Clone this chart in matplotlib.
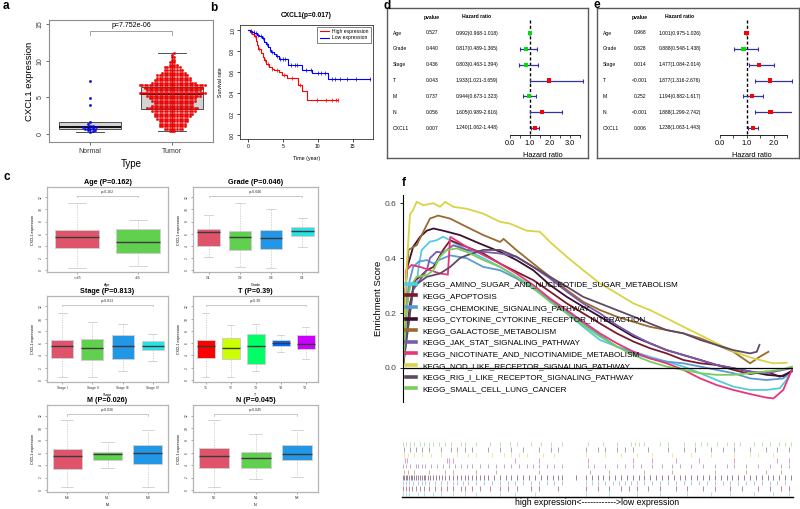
import numpy as np
import matplotlib
matplotlib.use('Agg')
import matplotlib.pyplot as plt
from matplotlib.lines import Line2D
from matplotlib.transforms import blended_transform_factory

plt.rcParams['font.family'] = ['Liberation Sans', 'DejaVu Sans']

W, H = 800, 509

# ---------------- data ----------------
# panel a
normal_vals = [0.3, 0.42, 0.5, 0.58, 0.65, 0.72, 0.8, 0.85, 0.9, 0.95, 1.05, 1.15, 1.3, 1.6, 4.0, 4.9, 7.2]
tumor_levels = [0.35, 0.7, 1.05, 1.4, 1.75, 2.1, 2.45, 2.8, 3.15, 3.5, 3.85, 4.2, 4.55, 4.9, 5.25, 5.6,
                5.95, 6.3, 6.65, 7.0, 7.35, 7.7, 8.05, 8.4, 8.75, 9.1, 9.45, 9.8, 10.15, 10.5, 10.85, 11.1]
tumor_counts = [3, 8, 11, 11, 12, 13, 15, 16, 18, 21, 17, 16, 18, 19, 22, 27,
                22, 24, 27, 18, 15, 14, 13, 10, 8, 7, 4, 3, 2, 2, 1, 1]
# whislo, q1, med, q3, whishi
normal_box = [0.3, 0.62, 0.92, 1.65, 1.65]
tumor_box = [0.4, 3.45, 5.45, 6.4, 11.1]

# panel b (Kaplan-Meier steps)
high_t = [0, 0.3, 0.6, 0.9, 1.1, 1.3, 1.5, 1.8, 2.1, 2.3, 2.6, 3.0, 3.4, 3.7, 4.4, 4.9, 5.6, 7.1, 7.8, 8.5, 12.9]
high_s = [1.0, 0.98, 0.96, 0.94, 0.90, 0.86, 0.82, 0.78, 0.74, 0.71, 0.68, 0.65, 0.63, 0.62, 0.60, 0.57, 0.54, 0.48, 0.42, 0.33, 0.33]
high_cens = [0.5, 1.0, 1.6, 2.4, 2.9, 3.5, 4.2, 5.2, 6.3, 7.4, 9.9, 11.2, 12.1, 12.6, 12.9]
low_t = [0, 0.3, 0.6, 0.9, 1.3, 1.6, 2.0, 2.3, 2.6, 2.8, 3.1, 3.3, 3.7, 4.0, 4.4, 5.7, 7.8, 9.2, 11.4, 17.5]
low_s = [1.0, 0.99, 0.98, 0.97, 0.95, 0.94, 0.92, 0.89, 0.87, 0.84, 0.81, 0.79, 0.77, 0.75, 0.72, 0.67, 0.62, 0.59, 0.53, 0.53]
low_cens = [0.4, 0.8, 1.1, 1.5, 1.9, 2.2, 2.7, 3.2, 3.5, 4.1, 4.6, 5.0, 5.3, 6.2, 6.8, 7.0, 8.3, 9.0,
            10.0, 10.5, 11.0, 12.0, 12.5, 13.2, 14.2, 15.5, 17.5]

# panel c
c_titles = ['Age (P=0.162)', 'Grade (P=0.046)', 'Stage (P=0.813)', 'T (P=0.39)', 'M (P=0.026)', 'N (P=0.045)']
c_xlabels = ['Age', 'Grade', 'Stage', 'T', 'M', 'N']
c_pvals = ['p=0.162', 'p=0.046', 'p=0.813', 'p=0.39', 'p=0.026', 'p=0.045']
c_groups = [['<=65', '>65'], ['G1', 'G2', 'G3', 'G4'], ['Stage I', 'Stage II', 'Stage III', 'Stage IV'],
            ['T1', 'T2', 'T3', 'T4', 'TX'], ['M0', 'M1', 'MX'], ['N0', 'N1', 'NX']]
age_stats = [[0.4, 3.6, 5.5, 6.6, 11.0], [0.7, 2.75, 4.6, 6.8, 8.2]]
grade_stats = [[2.1, 4.0, 6.2, 6.7, 9.0], [0.45, 3.3, 5.5, 6.5, 11.0], [0.4, 3.4, 5.2, 6.6, 10.0], [3.8, 5.6, 6.4, 7.1, 8.6]]
stage_stats = [[0.55, 3.6, 5.5, 6.6, 11.0], [0.44, 3.2, 5.2, 6.7, 9.4], [1.4, 3.4, 5.6, 7.4, 9.2], [3.1, 4.9, 5.6, 6.4, 7.5]]
t_stats = [[0.55, 3.6, 5.5, 6.6, 11.0], [0.44, 3.4, 5.2, 6.8, 9.0], [1.4, 2.6, 5.6, 7.5, 9.2],
           [4.6, 5.5, 6.0, 6.6, 7.3], [3.5, 5.0, 5.9, 7.4, 8.6]]
m_stats = [[0.45, 3.3, 5.55, 6.55, 11.3], [3.5, 4.9, 5.8, 6.2, 7.7], [0.55, 4.2, 5.9, 7.2, 9.6]]
n_stats = [[0.45, 3.6, 5.55, 6.8, 11.3], [1.7, 3.5, 5.2, 6.1, 9.0], [2.1, 4.9, 5.8, 7.2, 9.6]]
c_stats = [age_stats, grade_stats, stage_stats, t_stats, m_stats, n_stats]
pal = ['#DF536B', '#61D04F', '#2297E6', '#28E2E5']
rainbow5 = ['#FF0000', '#CCFF00', '#00FF66', '#0066FF', '#CC00FF']
c_colors = [pal, pal, pal, rainbow5, pal, pal]

# panels d / e
cox_names = ['Age', 'Grade', 'Stage', 'T', 'M', 'N', 'CXCL1']
d_p = ['0.527', '0.440', '0.436', '0.043', '0.737', '0.056', '0.007']
d_hr = [0.992, 0.817, 0.803, 1.933, 0.944, 1.605, 1.240]
d_lo = [0.968, 0.489, 0.463, 1.021, 0.673, 0.989, 1.062]
d_hi = [1.018, 1.365, 1.394, 3.659, 1.323, 2.616, 1.448]
e_p = ['0.968', '0.628', '0.014', '<0.001', '0.252', '<0.001', '0.006']
e_hr = [1.001, 0.888, 1.477, 1.877, 1.194, 1.888, 1.238]
e_lo = [0.975, 0.548, 1.084, 1.316, 0.882, 1.299, 1.063]
e_hi = [1.026, 1.438, 2.014, 2.676, 1.617, 2.742, 1.443]

# panel f (running enrichment scores, x = % of ranked list)
gsea_names = ['KEGG_AMINO_SUGAR_AND_NUCLEOTIDE_SUGAR_METABOLISM', 'KEGG_APOPTOSIS',
              'KEGG_CHEMOKINE_SIGNALING_PATHWAY', 'KEGG_CYTOKINE_CYTOKINE_RECEPTOR_INTERACTION',
              'KEGG_GALACTOSE_METABOLISM', 'KEGG_JAK_STAT_SIGNALING_PATHWAY',
              'KEGG_NICOTINATE_AND_NICOTINAMIDE_METABOLISM', 'KEGG_NOD_LIKE_RECEPTOR_SIGNALING_PATHWAY',
              'KEGG_RIG_I_LIKE_RECEPTOR_SIGNALING_PATHWAY', 'KEGG_SMALL_CELL_LUNG_CANCER']
gsea_colors = ['#52CCE0', '#7B1A2E', '#5A9BD4', '#3A0F30', '#9B6A2F', '#7A5BA8', '#E8357A', '#D8D445', '#5E4A66', '#7ACD5A']

amino_x = [0, 0.9, 1.8, 3.5, 4.0, 4.8, 6.9, 8.6, 10.3, 12.1, 16.3, 20.6, 24.9, 29.1, 33.4, 37.7, 42.0, 46.2, 50.5,
           54.8, 59.1, 63.3, 67.6, 71.9, 76.2, 80.4, 84.7, 89.0, 93.2, 96.6, 98.3, 99.7]
amino_y = [0.005, 0.235, 0.30, 0.30, 0.368, 0.43, 0.46, 0.465, 0.478, 0.465, 0.43, 0.40, 0.368, 0.332, 0.296, 0.247,
           0.199, 0.15, 0.102, 0.078, 0.059, 0.041, 0.023, 0.005, -0.019, -0.044, -0.068, -0.08, -0.08, -0.074, -0.044, -0.007]
apop_x = [0, 1.8, 3.1, 4.4, 6.1, 7.8, 10.3, 12.1, 16.3, 20.6, 24.9, 29.1, 33.4, 37.7, 42.0, 46.2, 50.5, 54.8, 59.1,
          63.3, 67.6, 71.9, 76.2, 80.4, 84.7, 89.0, 93.2, 96.6, 99.7]
apop_y = [0.005, 0.235, 0.32, 0.332, 0.356, 0.368, 0.43, 0.465, 0.441, 0.417, 0.38, 0.35, 0.32, 0.278, 0.235, 0.199,
          0.162, 0.126, 0.096, 0.072, 0.053, 0.029, 0.017, 0.011, -0.007, -0.022, -0.013, -0.032, -0.013]
chem_x = [0, 1.4, 2.6, 4.0, 6.1, 7.8, 9.5, 12.1, 16.3, 20.6, 24.9, 29.1, 33.4, 37.7, 42.0, 46.2, 50.5, 54.8, 59.1,
          63.3, 67.6, 71.9, 76.2, 80.4, 84.7, 89.0, 93.2, 97.5, 99.7]
chem_y = [0.005, 0.30, 0.368, 0.387, 0.393, 0.38, 0.395, 0.41, 0.40, 0.368, 0.356, 0.326, 0.29, 0.247, 0.205, 0.162,
          0.12, 0.078, 0.053, 0.035, 0.023, 0.017, 0.005, -0.007, -0.019, -0.038, -0.044, -0.038, -0.013]
cyt_x = [0, 0.9, 2.6, 4.4, 6.1, 7.8, 10.3, 14.6, 19.7, 24.9, 29.1, 33.4, 37.7, 42.0, 46.2, 50.5, 54.8, 59.1, 63.3,
         67.6, 71.9, 76.2, 80.4, 84.7, 89.0, 93.2, 97.5, 99.7]
cyt_y = [0.04, 0.356, 0.441, 0.478, 0.50, 0.508, 0.50, 0.484, 0.453, 0.423, 0.393, 0.356, 0.302, 0.259, 0.223, 0.187,
         0.15, 0.114, 0.09, 0.065, 0.047, 0.029, 0.011, -0.001, -0.013, -0.025, -0.03, -0.01]
gal_x = [0, 0.5, 1.4, 3.5, 5.2, 6.9, 9.0, 12.1, 16.3, 20.6, 24.9, 25.8, 29.1, 33.4, 37.7, 42.0, 46.2, 50.5, 54.8,
         59.1, 63.3, 67.6, 71.9, 76.2, 80.4, 84.7, 89.0, 91.5, 93.7]
gal_y = [0.0, 0.25, 0.43, 0.447, 0.496, 0.544, 0.555, 0.544, 0.514, 0.484, 0.459, 0.47, 0.429, 0.38, 0.332, 0.284,
         0.241, 0.211, 0.187, 0.168, 0.15, 0.138, 0.126, 0.108, 0.084, 0.059, 0.017, 0.041, 0.059]
jak_x = [0, 2.6, 6.1, 6.9, 8.6, 10.3, 12.9, 16.3, 20.6, 24.9, 29.1, 33.4, 37.7, 42.0, 46.2, 50.5, 54.8, 59.1, 63.3,
         67.6, 71.9, 76.2, 80.4, 84.7, 89.0, 93.2, 97.5, 99.7]
jak_y = [0.005, 0.284, 0.356, 0.40, 0.423, 0.42, 0.447, 0.43, 0.423, 0.417, 0.405, 0.368, 0.326, 0.278, 0.235, 0.199,
         0.156, 0.12, 0.09, 0.065, 0.047, 0.029, 0.011, -0.001, -0.013, -0.019, -0.007, 0.0]
nic_x = [0, 0.9, 2.2, 4.4, 6.9, 9.5, 11.5, 12.1, 16.3, 20.6, 24.9, 29.1, 33.4, 37.7, 42.0, 46.2, 50.5, 54.8, 59.1,
         63.3, 67.6, 71.9, 76.2, 80.4, 84.7, 89.0, 93.2, 95.0, 97.5, 99.7]
nic_y = [0.04, 0.356, 0.375, 0.368, 0.356, 0.344, 0.34, 0.478, 0.441, 0.411, 0.38, 0.344, 0.302, 0.253, 0.211, 0.168,
         0.126, 0.09, 0.059, 0.035, 0.017, -0.007, -0.038, -0.062, -0.08, -0.095, -0.108, -0.111, -0.08, -0.007]
nod_x = [0, 0.9, 1.8, 2.6, 3.5, 5.2, 7.8, 9.5, 10.8, 12.9, 16.3, 20.6, 24.9, 27.4, 31.7, 35.1, 37.7, 42.0, 46.2,
         50.5, 54.8, 59.1, 63.3, 67.6, 71.9, 76.2, 80.4, 84.7, 89.8, 94.9, 98.4]
nod_y = [0.005, 0.36, 0.56, 0.575, 0.605, 0.593, 0.60, 0.587, 0.605, 0.587, 0.58, 0.562, 0.532, 0.526, 0.50, 0.496,
         0.459, 0.405, 0.356, 0.308, 0.272, 0.235, 0.211, 0.181, 0.150, 0.12, 0.09, 0.06, 0.035, 0.017, 0.019]
rig_x = [0, 2.6, 6.1, 9.5, 12.1, 14.6, 16.3, 20.6, 24.9, 29.1, 33.4, 37.7, 42.0, 46.2, 50.5, 54.8, 59.1, 63.3, 67.6,
         71.9, 76.2, 80.4, 84.7, 89.0, 90.7, 91.4]
rig_y = [0.005, 0.296, 0.332, 0.344, 0.368, 0.40, 0.41, 0.43, 0.43, 0.405, 0.368, 0.332, 0.296, 0.259, 0.235, 0.211,
         0.187, 0.162, 0.138, 0.126, 0.102, 0.084, 0.065, 0.053, 0.059, 0.084]
small_x = [0, 0.9, 1.8, 3.5, 6.1, 7.8, 9.5, 11.2, 13.8, 16.3, 20.6, 24.9, 29.1, 33.4, 37.7, 42.0, 46.2, 50.5, 54.8,
           59.1, 63.3, 67.6, 71.9, 76.2, 80.4, 84.7, 89.0, 93.2, 97.5, 99.7]
small_y = [0.0, 0.21, 0.296, 0.332, 0.338, 0.356, 0.405, 0.43, 0.435, 0.423, 0.393, 0.368, 0.332, 0.29, 0.241, 0.199,
           0.156, 0.114, 0.078, 0.047, 0.023, 0.005, -0.007, -0.019, -0.025, -0.025, -0.019, -0.013, -0.005, 0.005]
gsea_x = [amino_x, apop_x, chem_x, cyt_x, gal_x, jak_x, nic_x, nod_x, rig_x, small_x]
gsea_y = [amino_y, apop_y, chem_y, cyt_y, gal_y, jak_y, nic_y, nod_y, rig_y, small_y]

# hit positions for the rug (same order as gsea_names)
amino_hits = [0.3, 1, 1.7, 4, 5.5, 8, 10, 13, 16, 19, 25, 29, 34, 47, 53, 60, 66, 73, 79, 84, 90, 95, 99]
apop_hits = [0.2, 1, 1.8, 2.6, 3.5, 4.5, 5.5, 7, 8.5, 10, 11.5, 13, 15, 16, 18, 20, 22.5, 25, 27, 29.5, 33, 35, 40,
             47, 50, 53, 56, 58, 60, 63, 66, 70, 73, 77, 80, 84, 87, 91, 94, 97, 99]
chem_hits = [0.3, 1, 1.8, 2.8, 4, 5, 6, 7, 8.5, 10, 11.5, 13, 14, 15.5, 17, 19, 21, 23, 25, 27, 29, 31, 33, 35, 37, 39,
             41, 47, 48.5, 50, 52, 54, 55.5, 57, 58.5, 60, 62, 64, 66, 68, 70, 72, 74, 76, 78, 80, 82, 84, 86, 88, 90,
             92, 94, 96, 98]
cyt_hits = [0.2, 0.6, 1, 1.4, 1.8, 2.2, 2.6, 3, 3.5, 4, 4.5, 5, 5.5, 6, 6.6, 7.2, 8, 8.8, 9.5, 10.3, 11, 12, 13, 14,
            15, 16, 17, 18, 19, 20, 21, 22, 23.5, 25, 26.5, 28, 29.5, 31, 32.5, 34, 35.5, 37, 38.5, 40, 41, 44.5, 47,
            48.5, 50, 51.5, 53, 54.5, 56, 57.5, 59, 60.5, 62, 63.5, 65, 66.5, 68, 69.5, 71, 72.5, 74, 75.5, 77, 78.5,
            80, 81.5, 83, 84.5, 86, 87.5, 89, 90.5, 92, 93.5, 95, 96.5, 98, 99.5]
gal_hits = [0.5, 1.5, 3, 7, 11, 13, 19, 24, 35, 48, 53, 62, 69, 80, 88, 93, 97]
jak_hits = [0.3, 1, 2, 3.5, 4, 5, 6, 7.5, 9, 10.5, 12, 13.5, 15, 16.5, 18, 20, 22, 24, 26, 28, 30, 32, 33.5, 35, 37,
            39, 41, 47.5, 49, 52, 55, 57, 59, 61, 64, 66.5, 69, 71, 74, 77, 80, 83, 85, 88, 91, 94, 97, 99]
nic_hits = [0.8, 1.2, 11.5, 12, 13, 29, 35, 47.5, 59, 64, 70, 76, 85, 96, 99]
nod_hits = [0.5, 1.5, 3, 5, 7.5, 10, 14, 17, 19, 23, 26, 28, 30, 32, 36, 39, 47, 52, 56, 60, 64, 69, 74, 79, 85, 89,
            91, 95]
rig_hits = [0.5, 2, 3.5, 5, 7, 10, 12.5, 14, 16, 18, 22, 25, 28, 31, 35, 38, 40, 47, 50, 52, 55, 57, 59, 63, 68, 72,
            75, 79, 82, 85, 89, 93, 96, 99]
small_hits = [0.3, 1, 2, 3, 4.5, 5.5, 7, 8, 9.5, 11, 12.5, 15, 16, 19, 22.5, 25, 27.5, 29.5, 33, 35.5, 38, 41, 47.5,
              51.5, 55, 58.5, 59.5, 60.5, 62, 66, 68, 72, 75, 76.5, 78, 80.5, 83, 85, 86.5, 90, 92, 94, 96.5, 98, 99.5]
gsea_hits = [amino_hits, apop_hits, chem_hits, cyt_hits, gal_hits, jak_hits, nic_hits, nod_hits, rig_hits, small_hits]


fig = plt.figure(figsize=(8, 5.09), dpi=100)


def px_axes(l, t, r, b):
    return fig.add_axes([l / W, 1 - b / H, (r - l) / W, (b - t) / H])


def fig_text(x, y, s, **kw):
    fig.text(x / W, 1 - y / H, s, **kw)


def swarm_offsets(values, d, sx, sy):
    # simple beeswarm: shift each point sideways until it does not overlap (pixel space)
    placed = []
    offs = []
    for v in values:
        y = v * sy
        near = [(px, py) for px, py in placed if abs(py - y) < d]
        k = 0
        while True:
            found = None
            for sgn in ((1,) if k == 0 else (1, -1)):
                x = sgn * k * d * 0.5
                if all((x - px) ** 2 + (y - py) ** 2 >= d * d for px, py in near):
                    found = x
                    break
            if found is not None:
                break
            k += 1
        placed.append((found, y))
        offs.append(found / sx)
    return offs


def stat_dict(s):
    return dict(whislo=s[0], q1=s[1], med=s[2], q3=s[3], whishi=s[4], fliers=[])


for lab, x, y in [('a', 3, 6), ('b', 210, 8), ('c', 3, 177), ('d', 383, 6), ('e', 593, 5), ('f', 402, 183)]:
    fig_text(x, y, lab, fontsize=8.5, fontweight='bold', va='center')

# ---------------- panel a ----------------
ax = px_axes(49, 20, 213, 142)
ax.set_xlim(0.5, 2.5)
ax.set_ylim(-1.1, 15.6)
ax.bxp([stat_dict(normal_box), stat_dict(tumor_box)], positions=[1, 2], widths=0.76, capwidths=0.33,
       patch_artist=True, showfliers=False,
       boxprops=dict(facecolor='#D3D3D3', edgecolor='#505050', lw=0.7),
       medianprops=dict(color='black', lw=1.3), whiskerprops=dict(color='#505050', lw=0.7),
       capprops=dict(color='#505050', lw=0.7))
sx = 164 / 2.0
sy = 122 / 16.7
tumor_vals = [lv for lv, cnt in zip(tumor_levels, tumor_counts) for _ in range(cnt)]
ax.scatter(1 + np.array(swarm_offsets(normal_vals, 2.5, sx, sy)), normal_vals, s=3.2, color='#0000FF',
           edgecolor='#0000B0', lw=0.2, zorder=3)
ax.scatter(2 + np.array(swarm_offsets(tumor_vals, 2.5, sx, sy)), tumor_vals, s=3.2, color='#FF0000',
           edgecolor='#C00000', lw=0.2, zorder=3)
ax.plot([1, 1, 2, 2], [13.6, 14.05, 14.05, 13.6], color='#909090', lw=0.6)
ax.text(1.5, 14.35, 'p=7.752e-06', ha='center', va='bottom', fontsize=5)
ax.set_xticks([1, 2], ['Normal', 'Tumor'], fontsize=5)
ax.set_yticks([0, 5, 10, 15], ['0', '5', '10', '15'], fontsize=5, rotation=90, va='center')
ax.set_xlabel('Type', fontsize=7, labelpad=3)
ax.set_ylabel('CXCL1 expression', fontsize=6.8, labelpad=2)
for sp in ax.spines.values():
    sp.set_color('#8C8C8C')
ax.tick_params(colors='#555555', length=2.5, width=0.6, pad=1.5, labelcolor='#333333')

# ---------------- panel b ----------------
ax = px_axes(240, 25, 373, 139)
ax.set_xlim(-1.14, 17.9)
ax.set_ylim(-0.038, 1.048)
ax.step(high_t, high_s, where='post', color='#FF0000', lw=0.8, label='High expression')
ax.step(low_t, low_s, where='post', color='#0000FF', lw=0.8, label='Low expression')
hs = [high_s[np.searchsorted(high_t, c, side='right') - 1] for c in high_cens]
ls_ = [low_s[np.searchsorted(low_t, c, side='right') - 1] for c in low_cens]
ax.plot(high_cens, hs, ls='none', marker='|', ms=2.5, mew=0.5, color='#FF0000')
ax.plot(low_cens, ls_, ls='none', marker='|', ms=2.5, mew=0.5, color='#0000FF')
ax.set_xticks([0, 5, 10, 15], ['0', '5', '10', '15'], fontsize=3.6)
ax.set_yticks([0, 0.2, 0.4, 0.6, 0.8, 1.0], ['0.0', '0.2', '0.4', '0.6', '0.8', '1.0'], fontsize=3.6,
              rotation=90, va='center')
ax.tick_params(length=2, width=0.5, pad=1.5)
ax.set_xlabel('Time (year)', fontsize=3.8, labelpad=5)
ax.set_ylabel('Survival rate', fontsize=3.8, labelpad=5)
ax.set_title('CXCL1(p=0.017)', fontsize=4.8, fontweight='bold', pad=6)
for sp in ax.spines.values():
    sp.set_linewidth(0.6)
    sp.set_color('#333333')
leg = ax.legend(loc='upper right', fontsize=3.6, frameon=True, fancybox=False, borderaxespad=0.35,
                handlelength=1.8, borderpad=0.45, labelspacing=0.3)
leg.get_frame().set_edgecolor('#222222')
leg.get_frame().set_linewidth(0.5)

# ---------------- panel c ----------------
c_boxes = [(47, 187, 168, 272), (193, 187, 318, 272), (47, 296, 168, 382),
           (193, 296, 318, 382), (47, 405, 168, 492), (193, 405, 318, 492)]
for k in range(6):
    l, t, r, b = c_boxes[k]
    ax = px_axes(l, t, r, b)
    st = c_stats[k]
    n = len(st)
    ax.set_xlim(0.5, n + 0.5)
    ax.set_ylim(-0.33, 13.7)
    parts = ax.bxp([stat_dict(s) for s in st], positions=range(1, n + 1), widths=0.72, capwidths=0.3,
                   patch_artist=True, showfliers=False,
                   boxprops=dict(edgecolor='#CFCFCF', lw=0.7), medianprops=dict(color='#3A3A3A', lw=1.0),
                   whiskerprops=dict(color='#C4C4C4', lw=0.5, ls=(0, (2, 1.5))),
                   capprops=dict(color='#C4C4C4', lw=0.5))
    for patch, col in zip(parts['boxes'], c_colors[k]):
        patch.set_facecolor(col)
    ax.plot([1, 1, n, n], [12.0, 12.25, 12.25, 12.0], color='#B0B0B0', lw=0.5)
    ax.text((1 + n) / 2, 12.5, c_pvals[k], ha='center', va='bottom', fontsize=2.6, color='#333333')
    ax.set_xticks(range(1, n + 1), c_groups[k], fontsize=2.4)
    ax.set_yticks(range(0, 13, 2), [str(v) for v in range(0, 13, 2)], fontsize=2.4, rotation=90, va='center')
    ax.tick_params(length=1.5, width=0.4, pad=1.5, colors='#666666', labelcolor='#333333')
    ax.set_xlabel(c_xlabels[k], fontsize=2.6, labelpad=2)
    ax.set_ylabel('CXCL1 expression', fontsize=2.6, labelpad=3)
    ax.set_title(c_titles[k], fontsize=5.2, fontweight='bold', pad=2)
    for sp in ax.spines.values():
        sp.set_color('#B5B5B5')
        sp.set_linewidth(0.9)


# ---------------- panels d & e ----------------
def forest(frame, axbox, zero_px, unit_px, tick_max, cols, pv, hr, lo, hi):
    fl, ft, fr, fb = frame
    fa = px_axes(fl, ft, fr, fb)
    fa.set_xticks([])
    fa.set_yticks([])
    for sp in fa.spines.values():
        sp.set_color('#5A5A5A')
        sp.set_linewidth(1.0)
    l, t, r, b = axbox
    ax = px_axes(l, t, r, b)
    ax.set_xlim((l - zero_px) / unit_px, (r - zero_px) / unit_px)
    row_px = (128 - 33) / 6.0
    ax.set_ylim((b - 33) / row_px, (t - 33) / row_px)
    rows = np.arange(len(cox_names))
    ax.vlines(1, -0.8, 6.35, color='black', lw=1.0, ls=(0, (2.2, 1.6)))
    ax.errorbar(hr, rows, xerr=[np.array(hr) - np.array(lo), np.array(hi) - np.array(hr)], fmt='none',
                ecolor='#3434A0', elinewidth=0.9, capsize=1.6, capthick=0.8)
    sq_cols = ['#FF0000' if v >= 1 else '#00E000' for v in hr]
    ax.scatter(hr, rows, marker='s', s=9, c=sq_cols, lw=0, zorder=3)
    for sp in ['top', 'right', 'left']:
        ax.spines[sp].set_visible(False)
    ax.spines['bottom'].set_bounds(0, tick_max)
    ax.spines['bottom'].set_linewidth(0.6)
    ax.set_yticks([])
    ticks = np.arange(0, tick_max + 0.01, 0.5)
    ax.set_xticks(ticks, ['%.1f' % v if v == int(v) else '' for v in ticks], fontsize=5.3)
    ax.tick_params(axis='x', length=2.5, width=0.5, pad=1)
    ax.set_xlabel('Hazard ratio', fontsize=5.3, labelpad=4)
    tr = blended_transform_factory(fig.transFigure, ax.transData)
    x_name, x_p, x_hr = cols
    hdr = (17 - 33) / row_px
    fs = 3.6
    ax.text(x_p / W, hdr, 'pvalue', transform=tr, ha='center', va='center', fontsize=fs, fontweight='bold')
    ax.text(x_hr / W, hdr, 'Hazard ratio', transform=tr, ha='center', va='center', fontsize=fs, fontweight='bold')
    for i in rows:
        ax.text(x_name / W, i, cox_names[i], transform=tr, ha='left', va='center', fontsize=fs)
        ax.text(x_p / W, i, pv[i], transform=tr, ha='center', va='center', fontsize=fs)
        ax.text(x_hr / W, i, '%.3f(%.3f-%.3f)' % (hr[i], lo[i], hi[i]), transform=tr, ha='center',
                va='center', fontsize=fs)


forest((387, 8, 588, 158), (500, 20, 585, 135), 510, 20.0, 3.5, (393, 432, 477), d_p, d_hr, d_lo, d_hi)
forest((597, 8, 799, 158), (712, 20, 792, 135), 719.5, 27.0, 2.5, (603, 640, 680), e_p, e_hr, e_lo, e_hi)

# ---------------- panel f ----------------
ax = px_axes(403, 195, 793, 402)
ax.set_xlim(0, 100)
ax.set_ylim(-0.124, 0.63)
for i in range(len(gsea_names)):
    ax.plot(gsea_x[i], gsea_y[i], color=gsea_colors[i], lw=1.3, solid_joinstyle='miter')
ax.axhline(0, color='black', lw=0.9)
for sp in ['top', 'right', 'bottom']:
    ax.spines[sp].set_visible(False)
ax.spines['left'].set_linewidth(0.8)
ax.set_xticks([])
ax.set_yticks([0, 0.2, 0.4, 0.6], ['0.0', '0.2', '0.4', '0.6'], fontsize=6, color='#444444')
ax.tick_params(axis='y', length=2.5, width=0.6, pad=2)
ax.set_ylabel('Enrichment Score', fontsize=6.8, labelpad=1)
handles = [Line2D([], [], color=c, lw=2.6) for c in gsea_colors]
ax.legend(handles, gsea_names, loc='upper left', bbox_to_anchor=(406 / W, 1 - 281 / H),
          bbox_transform=fig.transFigure, frameon=False, fontsize=5.9, handlelength=1.25,
          handletextpad=0.75, labelspacing=0.47, borderpad=0, borderaxespad=0)

ax = px_axes(402, 441, 793, 497)
ax.set_xlim(0, 100)
ax.set_ylim(0, 10)
for i, hits in enumerate(gsea_hits):
    ax.vlines(hits, i + 0.1, i + 0.9, color=gsea_colors[i], lw=0.6, alpha=0.6)
for sp in ['top', 'right', 'left']:
    ax.spines[sp].set_visible(False)
ax.spines['bottom'].set_linewidth(1.0)
ax.set_xticks([])
ax.set_yticks([])
ax.set_xlabel('high expression<------------>low expression', fontsize=6.3, labelpad=1)

fig.savefig('out.png', dpi=100)
